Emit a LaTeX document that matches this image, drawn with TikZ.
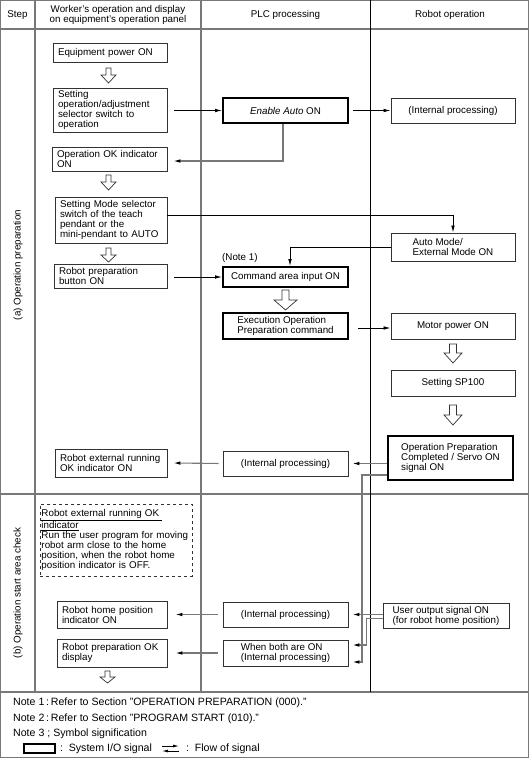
\documentclass[tikz,border=0pt]{standalone}
\usepackage{fontspec}
\setmainfont{Liberation Sans}
\usetikzlibrary{arrows.meta,calc}
\definecolor{gl}{RGB}{120,120,120}
\definecolor{bx}{RGB}{50,50,50}
\newcommand\fsz{\fontsize{9.8}{10}\selectfont}
\newcommand\fnt{\fontsize{10.6}{12}\selectfont}
\tikzset{
  wbox/.style={draw=bx, line width=0.9pt, inner xsep=5pt, inner ysep=1pt, align=left},
  nbox/.style={draw=bx, line width=0.9pt, inner sep=1pt, align=left},
  sbox/.style={draw=black, line width=2pt, inner sep=1pt, align=left},
  blk/.style={line width=0.8pt, -{Latex[length=7pt,width=3.6pt]}},
  gry/.style={draw=gl, line width=1.1pt, -{Latex[length=7pt,width=3.6pt,color=black]}},
  grid/.style={draw=gl, line width=1.2pt},
  hollow/.style={draw=bx, line width=0.7pt, fill=white},
  notetxt/.style={anchor=west, inner sep=0, font=\fnt},
  pics/harrow/.style n args={4}{code={\draw[hollow] (-#2,0) -- (#2,0) -- (#2,#1-#4) -- (#3,#1-#4) -- (0,#1) -- (-#3,#1-#4) -- (-#2,#1-#4) -- cycle;}}
}
\begin{document}
\begin{tikzpicture}[x=1pt,y=-1pt,font=\fsz]
\useasboundingbox (0,0) rectangle (529,758);
% table
\draw[grid] (0.6,0.6) rectangle (528.4,757.4);
\draw[grid] (0,29) -- (529,29);
\draw[grid] (0,494) -- (529,494);
\draw[grid] (0,692) -- (529,692);
\draw[grid] (35,0) -- (35,692);
\draw[grid] (201,0) -- (201,692);
\draw[line width=0.8pt] (370,0) -- (370,692);
% header
\node (h1) at (17.5,15) {Step};
\node[align=center] (h2) at (118,14.5) {Worker's operation and display\\on equipment's operation panel};
\node (h3) at (285.5,15) {PLC processing};
\node (h4) at (450,15) {Robot operation};
\node[rotate=90] (s1) at (18,265) {(a) Operation preparation};
\node[rotate=90] (s2) at (18,593) {(b) Operation start area check};
% worker column
\node[wbox, text width=104pt, minimum height=19pt] (w1) at (110,52.5) {Equipment power ON};
\node[wbox, text width=104pt, minimum height=44pt] (w2) at (110,110) {Setting\\operation/adjustment\\selector switch to\\operation};
\node[wbox, text width=105pt, minimum height=24pt] (w3) at (109.5,159) {Operation OK indicator\\ON};
\node[wbox, text width=102pt, minimum height=46pt] (w4) at (111,220) {Setting Mode selector\\switch of the teach\\pendant or the\\mini-pendant to AUTO};
\node[wbox, text width=103pt, minimum height=24pt] (w5) at (110.5,276) {Robot preparation\\button ON};
\node[wbox, text width=102pt, minimum height=28pt] (w6) at (111,463) {Robot external running\\OK indicator ON};
\node[draw=bx, dashed, line width=0.9pt, inner xsep=1.5pt, inner ysep=1pt, align=left, text width=149pt, minimum height=72pt] (d1) at (116,540) {\hyphenpenalty=10000\underline{Robot external running OK }\\\underline{indicator}\\Run the user program for moving\\robot arm close to the home\\position, when the robot home\\position indicator is OFF.};
\node[wbox, text width=100pt, minimum height=27pt] (w7) at (112,614.5) {Robot home position\\indicator ON};
\node[wbox, text width=100pt, minimum height=28pt] (w8) at (112,653) {Robot preparation OK\\display};
% PLC column
\node[sbox, minimum width=125pt, minimum height=25pt] (p1) at (285.5,110.5) {\textit{Enable Auto} ON};
\node[anchor=west, inner sep=0] (nt1) at (222,258) {(Note 1)};
\node[sbox, minimum width=125pt, minimum height=20pt] (p2) at (285.5,277) {Command area input ON};
\node[sbox, minimum width=125pt, minimum height=26pt] (p3) at (285.5,326) {Execution Operation\\Preparation command};
\node[nbox, minimum width=125pt, minimum height=25pt] (p4) at (285.5,463.5) {(Internal processing)};
\node[nbox, minimum width=125pt, minimum height=25pt] (p5) at (285.5,614.5) {(Internal processing)};
\node[nbox, minimum width=125pt, minimum height=26pt] (p6) at (285.5,653) {When both are ON\\(Internal processing)};
% robot column
\node[nbox, minimum width=124pt, minimum height=25pt] (r1) at (453,110.5) {(Internal processing)};
\node[nbox, minimum width=124pt, minimum height=28pt] (r2) at (453,247) {Auto Mode/\\External Mode ON};
\node[nbox, minimum width=124pt, minimum height=26pt] (r3) at (453,326) {Motor power ON};
\node[nbox, minimum width=124pt, minimum height=26pt] (r4) at (453,383) {Setting SP100};
\node[sbox, minimum width=125pt, minimum height=44pt] (r5) at (450.5,458) {Operation Preparation\\Completed / Servo ON\\signal ON};
\node[nbox, minimum width=126pt, minimum height=25pt] (r6) at (446,615.5) {User output signal ON\\(for robot home position)};
% hollow arrows
\pic at (108.5,68) {harrow={15}{2.5}{7.5}{8}};
\pic at (108.5,175) {harrow={15}{2.5}{7.5}{8}};
\pic at (108.5,248) {harrow={14}{2.5}{7.5}{7}};
\pic at (107.5,671) {harrow={12}{2.5}{7.5}{6}};
\pic at (285.5,290) {harrow={20}{3.5}{11.5}{10}};
\pic at (453,344) {harrow={19}{3.5}{9}{10}};
\pic at (453,405) {harrow={20}{3.5}{9}{10}};
% connectors
\draw[blk] ([xshift=7pt]w2.east |- p1.west) -- (p1.west);
\draw[blk, shorten <=4pt] (p1.east) -- (r1.west);
\draw[gry] ([xshift=-2.5pt]p1.south) |- ($(w3.east)+(6,2)$);
\draw[blk] ($(w4.east)+(0,-5)$) -| (r2.north);
\draw[blk] (r2.west) -| ([xshift=4.5pt]p2.north);
\draw[blk] ([xshift=7pt]w5.east |- p2.west) -- (p2.west);
\draw[blk] ($(p3.east)+(9,2)$) -- ($(r3.west)+(0,2)$);
\draw[gry] (r5.west |- p4.east) -- ([xshift=4pt]p4.east);
\draw[gry, shorten <=4pt] (p4.west) -- ([xshift=6pt]w6.east);
\draw[gry] ($(r5.south west)+(0,-6)$) -- ++(-25,0) |- ($(p6.east)+(4,9)$);
\draw[gry] (r6.west |- p5.east) -- ([xshift=4pt]p5.east);
\draw[gry] ($(r6.west)+(0,3)$) -- ++(-16,0) |- ($(p6.east)+(4,-8)$);
\draw[gry, shorten <=5pt] (p5.west) -- ([xshift=8pt]w7.east);
\draw[gry, shorten <=5pt] (p6.west) -- ([xshift=8pt]w8.east);
% notes
\node[notetxt] (n1) at (13,703) {Note 1\,:\,Refer to Section "OPERATION PREPARATION (000)."};
\node[notetxt] (n2) at (13,718.5) {Note 2\,:\,Refer to Section "PROGRAM START (010)."};
\node[notetxt] (n3) at (13,733.5) {Note 3 ; Symbol signification};
\node[sbox, minimum width=31pt, minimum height=9pt, inner sep=0] (lg1) at (39.5,748.5) {};
\node[notetxt] (lg2) at (60,748.5) {:\, System I/O signal};
\coordinate (la) at (162,746);
\coordinate (lb) at (179,746);
\coordinate (lc) at (179,751);
\coordinate (ld) at (162,751);
\draw[line width=0.8pt, -{Latex[length=6pt,width=3pt]}] (la) -- (lb);
\draw[line width=0.8pt, -{Latex[length=6pt,width=3pt]}] (lc) -- (ld);
\node[notetxt] (lg3) at (186,748.5) {:\, Flow of signal};
\end{tikzpicture}
\end{document}
